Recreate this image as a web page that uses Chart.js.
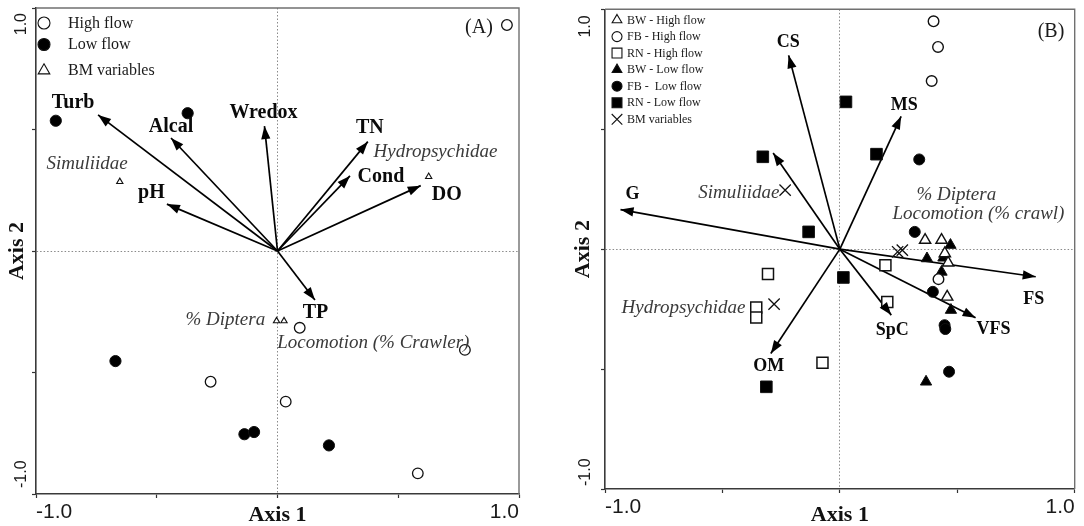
<!DOCTYPE html>
<html><head><meta charset="utf-8">
<script src="https://cdn.jsdelivr.net/npm/chart.js@4.4.0/dist/chart.umd.min.js"></script>
<style>
html,body{margin:0;padding:0;background:#fff;}
#wrap{position:relative;width:1084px;height:526px;overflow:hidden;background:#fff;}
canvas{position:absolute;top:0;}
#cA{left:0;} #cB{left:542px;}
</style></head><body>
<div id="wrap"><canvas id="cA" width="542" height="526"></canvas><canvas id="cB" width="542" height="526"></canvas></div>
<script>
// ---------------- Panel A data ----------------
const A_HIGH_X = [0.950, 0.092, 0.776, -0.277, 0.034, 0.581];
const A_HIGH_Y = [0.930, -0.316, -0.407, -0.538, -0.620, -0.915];
const A_LOW_X = [-0.918, -0.372, -0.671, -0.137, -0.097, 0.213];
const A_LOW_Y = [0.536, 0.567, -0.453, -0.754, -0.745, -0.800];
const A_BM_X = [-0.653, 0.626, -0.004, 0.027];
const A_BM_Y = [0.285, 0.306, -0.288, -0.288];
const A_VEC_NAMES = ['Turb', 'Alcal', 'Wredox', 'TN', 'Cond', 'DO', 'pH', 'TP'];
const A_VEC_X = [-0.743, -0.441, -0.054, 0.374, 0.300, 0.593, -0.458, 0.155];
const A_VEC_Y = [0.560, 0.465, 0.514, 0.450, 0.309, 0.269, 0.193, -0.202];
const A_TAXA = ['Simuliidae', 'Hydropsychidae', '% Diptera', 'Locomotion (% Crawler)'];
const A_LEGEND = ['High flow', 'Low flow', 'BM variables'];

// ---------------- Panel B data ----------------
const B_BW_HIGH_X = [0.363, 0.433, 0.447, 0.461, 0.457];
const B_BW_HIGH_Y = [0.038, 0.038, -0.018, -0.057, -0.199];
const B_FB_HIGH_X = [0.399, 0.418, 0.391, 0.420];
const B_FB_HIGH_Y = [0.950, 0.843, 0.701, -0.125];
const B_RN_HIGH_X = [0.194, -0.306, -0.356, -0.356, 0.202, -0.074];
const B_RN_HIGH_Y = [-0.067, -0.104, -0.243, -0.285, -0.220, -0.474];
const B_BW_LOW_X = [0.471, 0.371, 0.441, 0.433, 0.473, 0.367];
const B_BW_LOW_Y = [0.017, -0.039, -0.036, -0.095, -0.254, -0.553];
const B_FB_LOW_X = [0.338, 0.319, 0.396, 0.446, 0.449, 0.465];
const B_FB_LOW_Y = [0.374, 0.072, -0.178, -0.317, -0.333, -0.511];
const B_RN_LOW_X = [0.026, -0.328, 0.156, -0.133, 0.015, -0.313];
const B_RN_LOW_Y = [0.614, 0.385, 0.396, 0.072, -0.118, -0.574];
const B_BM_X = [-0.233, 0.246, 0.266, -0.280];
const B_BM_Y = [0.246, -0.011, -0.004, -0.229];
const B_VEC_NAMES = ['CS', 'MS', '', 'G', 'FS', 'VFS', 'SpC', 'OM'];
const B_VEC_X = [-0.218, 0.261, -0.284, -0.934, 0.834, 0.578, 0.219, -0.294];
const B_VEC_Y = [0.808, 0.554, 0.401, 0.165, -0.115, -0.286, -0.275, -0.435];
const B_TAXA = ['Simuliidae', '% Diptera', 'Locomotion (% crawl)', 'Hydropsychidae'];
const B_LEGEND = ['BW - High flow', 'FB - High flow', 'RN - High flow', 'BW - Low flow', 'FB -  Low flow', 'RN - Low flow', 'BM variables'];

// ---------------- shared text ----------------
const TICK_LABELS = ['-1.0', '1.0'];
const AXIS_TITLES = ['Axis 1', 'Axis 2'];
const PANEL_TAGS = ['(A)', '(B)'];

// ---------------- layout / style (not data) ----------------
const SANS = '"Liberation Sans", Arial, sans-serif';
const SERIF = '"Liberation Serif", "Times New Roman", serif';

const A_LAYOUT = {
  pad: {top: 8, right: 23, left: 0, bottom: 0}, xH: 32, yW: 36, xTickPad: 2, yTitlePad: 6,
  yTickX: 22, yTickTopGap: 5, yTickBotGap: 6, vecFont: 20,
  vecOffsets: [[-25, -12], [0, -11], [-1, -13], [2, -14], [31, 1], [26, 9], [-15.5, -11], [0.5, 13]],
  taxaPos: [[-0.957, 0.358, 'left'], [0.398, 0.407, 'left'], [-0.051, -0.284, 'right'], [-0.001, -0.377, 'left']],
  taxaFont: 19,
  tag: [479, 28], tagFont: 20,
  legend: {x: 44, tx: 68, rows: [23, 44.5, 70.5], font: 16,
    items: [{s: 'circle', r: 6, fill: '#fff'}, {s: 'circle', r: 6, fill: '#000'}, {s: 'triangle', r: 6.7, fill: '#fff'}]}
};
const B_LAYOUT = {
  pad: {top: 9, right: 1, left: 0, bottom: 0}, xH: 37, yW: 63, xTickPad: 2, yTitlePad: 30,
  yTickX: 44, yTickTopGap: 6, yTickBotGap: 3, vecFont: 18,
  vecOffsets: [[-0.5, -13.3], [3, -11], [0, 0], [12, -15], [-2, 23], [18, 12], [1, 15], [-2, 13]],
  taxaPos: [[-0.257, 0.235, 'right'], [0.496, 0.225, 'center'], [0.590, 0.146, 'center'], [-0.402, -0.244, 'right']],
  taxaFont: 19,
  tag: [509, 31.5], tagFont: 20,
  legend: {x: 75, tx: 85, rows: [20, 36.6, 53.1, 69.7, 86.2, 102.8, 119.3], font: 12,
    items: [{s: 'triangle', r: 5.6, fill: '#fff'}, {s: 'circle', r: 5, fill: '#fff'}, {s: 'rect', r: 7, fill: '#fff'},
            {s: 'triangle', r: 5.6, fill: '#000'}, {s: 'circle', r: 5, fill: '#000'}, {s: 'rect', r: 7, fill: '#000'},
            {s: 'crossRot', r: 7.5, fill: null}]}
};

const zip = (xs, ys) => xs.map((x, i) => ({x: x, y: ys[i]}));
const isV = (v, t) => Math.abs(v - t) < 1e-9;

function drawSym(ctx, s, x, y, r, fill, stroke, lw) {
  ctx.save();
  ctx.beginPath();
  if (s === 'circle') {
    ctx.arc(x, y, r, 0, Math.PI * 2);
  } else if (s === 'triangle') {
    for (let k = 0; k < 3; k++) {
      const a = k * 2 * Math.PI / 3;
      const px = x + Math.sin(a) * r, py = y - Math.cos(a) * r;
      if (k === 0) ctx.moveTo(px, py); else ctx.lineTo(px, py);
    }
    ctx.closePath();
  } else if (s === 'rect') {
    const h = r * Math.SQRT1_2;
    ctx.rect(x - h, y - h, 2 * h, 2 * h);
  } else if (s === 'crossRot') {
    const h = r * Math.SQRT1_2;
    ctx.moveTo(x - h, y - h); ctx.lineTo(x + h, y + h);
    ctx.moveTo(x + h, y - h); ctx.lineTo(x - h, y + h);
  }
  if (fill) { ctx.fillStyle = fill; ctx.fill(); }
  ctx.lineWidth = lw; ctx.strokeStyle = stroke; ctx.stroke();
  ctx.restore();
}

function scalesFor(L) {
  return {
    x: {
      type: 'linear', position: 'bottom', min: -1, max: 1,
      afterFit: s => { s.height = L.xH; },
      ticks: {
        stepSize: 0.5, autoSkip: false, maxRotation: 0, minRotation: 0, align: 'inner', padding: L.xTickPad,
        color: '#1a1a1a', font: {family: SANS, size: 21},
        callback: v => isV(v, -1) ? TICK_LABELS[0] : (isV(v, 1) ? TICK_LABELS[1] : '')
      },
      grid: {
        color: c => (c.tick && isV(c.tick.value, 0)) ? '#8a8a8a' : 'rgba(0,0,0,0)',
        lineWidth: 1, tickColor: '#333', tickLength: 4, tickWidth: 1.2
      },
      border: {display: true, color: '#3a3a3a', width: 1.6, dash: c => (c.tick && isV(c.tick.value, 0)) ? [1.5, 2] : []},
      title: {display: true, text: AXIS_TITLES[0], color: '#111',
        font: {family: SERIF, size: 22, weight: 'bold', lineHeight: 1}, padding: {top: 0, bottom: 0}}
    },
    y: {
      type: 'linear', position: 'left', min: -1, max: 1,
      afterFit: s => { s.width = L.yW; },
      ticks: {stepSize: 0.5, display: false},
      grid: {
        color: c => (c.tick && isV(c.tick.value, 0)) ? '#8a8a8a' : 'rgba(0,0,0,0)',
        lineWidth: 1, tickColor: '#333', tickLength: 4, tickWidth: 1.2
      },
      border: {display: true, color: '#3a3a3a', width: 1.6, dash: c => (c.tick && isV(c.tick.value, 0)) ? [1.5, 2] : []},
      title: {display: true, text: AXIS_TITLES[1], color: '#111',
        font: {family: SERIF, size: 22, weight: 'bold', lineHeight: 1}, padding: {top: L.yTitlePad, bottom: 0}}
    }
  };
}

function decor(L, tag, legendLabels) {
  return {
    id: 'decor',
    beforeDatasetsDraw(chart) {
      const {ctx, chartArea: a} = chart;
      ctx.save();
      ctx.strokeStyle = '#707070'; ctx.lineWidth = 1.4;
      ctx.beginPath(); ctx.moveTo(a.left, a.top); ctx.lineTo(a.right, a.top); ctx.lineTo(a.right, a.bottom); ctx.stroke();
      ctx.restore();
    },
    afterDatasetsDraw(chart) {
      const ctx = chart.ctx, xs = chart.scales.x, ys = chart.scales.y;
      let k = 0;
      chart.data.datasets.forEach((ds, i) => {
        if (!ds.isArrow) return;
        const m = chart.getDatasetMeta(i);
        const p0 = m.data[0], p1 = m.data[1];
        const ang = Math.atan2(p1.y - p0.y, p1.x - p0.x);
        const len = 13, hw = 4.6;
        const bx = p1.x - Math.cos(ang) * len, by = p1.y - Math.sin(ang) * len;
        ctx.save();
        ctx.fillStyle = '#000';
        ctx.beginPath();
        ctx.moveTo(p1.x, p1.y);
        ctx.lineTo(bx - Math.sin(ang) * hw, by + Math.cos(ang) * hw);
        ctx.lineTo(bx + Math.sin(ang) * hw, by - Math.cos(ang) * hw);
        ctx.closePath(); ctx.fill();
        if (ds.label) {
          const off = L.vecOffsets[k];
          ctx.font = 'bold ' + L.vecFont + 'px ' + SERIF;
          ctx.fillStyle = '#0a0a0a'; ctx.textAlign = 'center'; ctx.textBaseline = 'middle';
          ctx.fillText(ds.label, p1.x + off[0], p1.y + off[1]);
        }
        ctx.restore();
        k++;
      });
      // taxa labels
      ctx.save();
      ctx.font = 'italic ' + L.taxaFont + 'px ' + SERIF;
      ctx.fillStyle = '#3a3a3a'; ctx.textBaseline = 'middle';
      chart.options.plugins.decorTaxa.forEach((t, i) => {
        const p = L.taxaPos[i];
        ctx.textAlign = p[2];
        ctx.fillText(t, xs.getPixelForValue(p[0]), ys.getPixelForValue(p[1]));
      });
      ctx.restore();
      // legend
      ctx.save();
      const lg = L.legend;
      ctx.font = lg.font + 'px ' + SERIF; ctx.fillStyle = '#1a1a1a';
      ctx.textAlign = 'left'; ctx.textBaseline = 'middle';
      legendLabels.forEach((t, i) => {
        const it = lg.items[i];
        drawSym(ctx, it.s, lg.x, lg.rows[i], it.r, it.fill, '#111', 1.1);
        ctx.fillStyle = '#1a1a1a';
        ctx.fillText(t, lg.tx, lg.rows[i] + 0.5);
      });
      // panel tag
      ctx.font = L.tagFont + 'px ' + SERIF; ctx.textAlign = 'center';
      ctx.fillText(tag, L.tag[0], L.tag[1]);
      // y tick labels (rotated)
      ctx.font = '16px ' + SANS; ctx.fillStyle = '#1a1a1a'; ctx.textBaseline = 'middle';
      let py = ys.getPixelForValue(1);
      ctx.save(); ctx.translate(L.yTickX, py + L.yTickTopGap); ctx.rotate(-Math.PI / 2);
      ctx.textAlign = 'right'; ctx.fillText(TICK_LABELS[1], 0, 0); ctx.restore();
      py = ys.getPixelForValue(-1);
      ctx.save(); ctx.translate(L.yTickX, py - L.yTickBotGap); ctx.rotate(-Math.PI / 2);
      ctx.textAlign = 'left'; ctx.fillText(TICK_LABELS[0], 0, 0); ctx.restore();
      ctx.restore();
    }
  };
}

function arrowSets(names, xs, ys) {
  return names.map((n, i) => ({
    label: n, isArrow: true, data: [{x: 0, y: 0}, {x: xs[i], y: ys[i]}],
    showLine: true, pointRadius: 0, pointHoverRadius: 0, borderColor: '#000', borderWidth: 1.7, fill: false
  }));
}

function pts(label, xs, ys, style, r, fill, lw) {
  return {label: label, data: zip(xs, ys), pointStyle: style, pointRadius: r, pointHoverRadius: r,
    backgroundColor: fill, borderColor: '#111', pointBorderWidth: lw, borderWidth: lw, showLine: false};
}

function make(id, L, datasets, taxa, tag, legendLabels) {
  return new Chart(document.getElementById(id), {
    type: 'scatter',
    data: {datasets: datasets},
    options: {
      responsive: false, animation: false, devicePixelRatio: 1, events: [],
      layout: {padding: L.pad},
      scales: scalesFor(L),
      plugins: {legend: {display: false}, tooltip: {enabled: false}, decorTaxa: taxa}
    },
    plugins: [decor(L, tag, legendLabels)]
  });
}

make('cA', A_LAYOUT, [
  pts(A_LEGEND[0], A_HIGH_X, A_HIGH_Y, 'circle', 5.3, '#fff', 1.3),
  pts(A_LEGEND[1], A_LOW_X, A_LOW_Y, 'circle', 5.6, '#000', 1),
  pts(A_LEGEND[2], A_BM_X, A_BM_Y, 'triangle', 3.6, '#fff', 1.1),
  ...arrowSets(A_VEC_NAMES, A_VEC_X, A_VEC_Y)
], A_TAXA, PANEL_TAGS[0], A_LEGEND);

make('cB', B_LAYOUT, [
  pts(B_LEGEND[0], B_BW_HIGH_X, B_BW_HIGH_Y, 'triangle', 6.5, '#fff', 1.4),
  pts(B_LEGEND[1], B_FB_HIGH_X, B_FB_HIGH_Y, 'circle', 5.3, '#fff', 1.4),
  pts(B_LEGEND[2], B_RN_HIGH_X, B_RN_HIGH_Y, 'rect', 7.8, '#fff', 1.5),
  pts(B_LEGEND[3], B_BW_LOW_X, B_BW_LOW_Y, 'triangle', 6.5, '#000', 1),
  pts(B_LEGEND[4], B_FB_LOW_X, B_FB_LOW_Y, 'circle', 5.5, '#000', 1),
  pts(B_LEGEND[5], B_RN_LOW_X, B_RN_LOW_Y, 'rect', 8.2, '#000', 1),
  pts(B_LEGEND[6], B_BM_X, B_BM_Y, 'crossRot', 8, 'rgba(0,0,0,0)', 1.3),
  ...arrowSets(B_VEC_NAMES, B_VEC_X, B_VEC_Y)
], B_TAXA, PANEL_TAGS[1], B_LEGEND);
</script>
</body></html>
